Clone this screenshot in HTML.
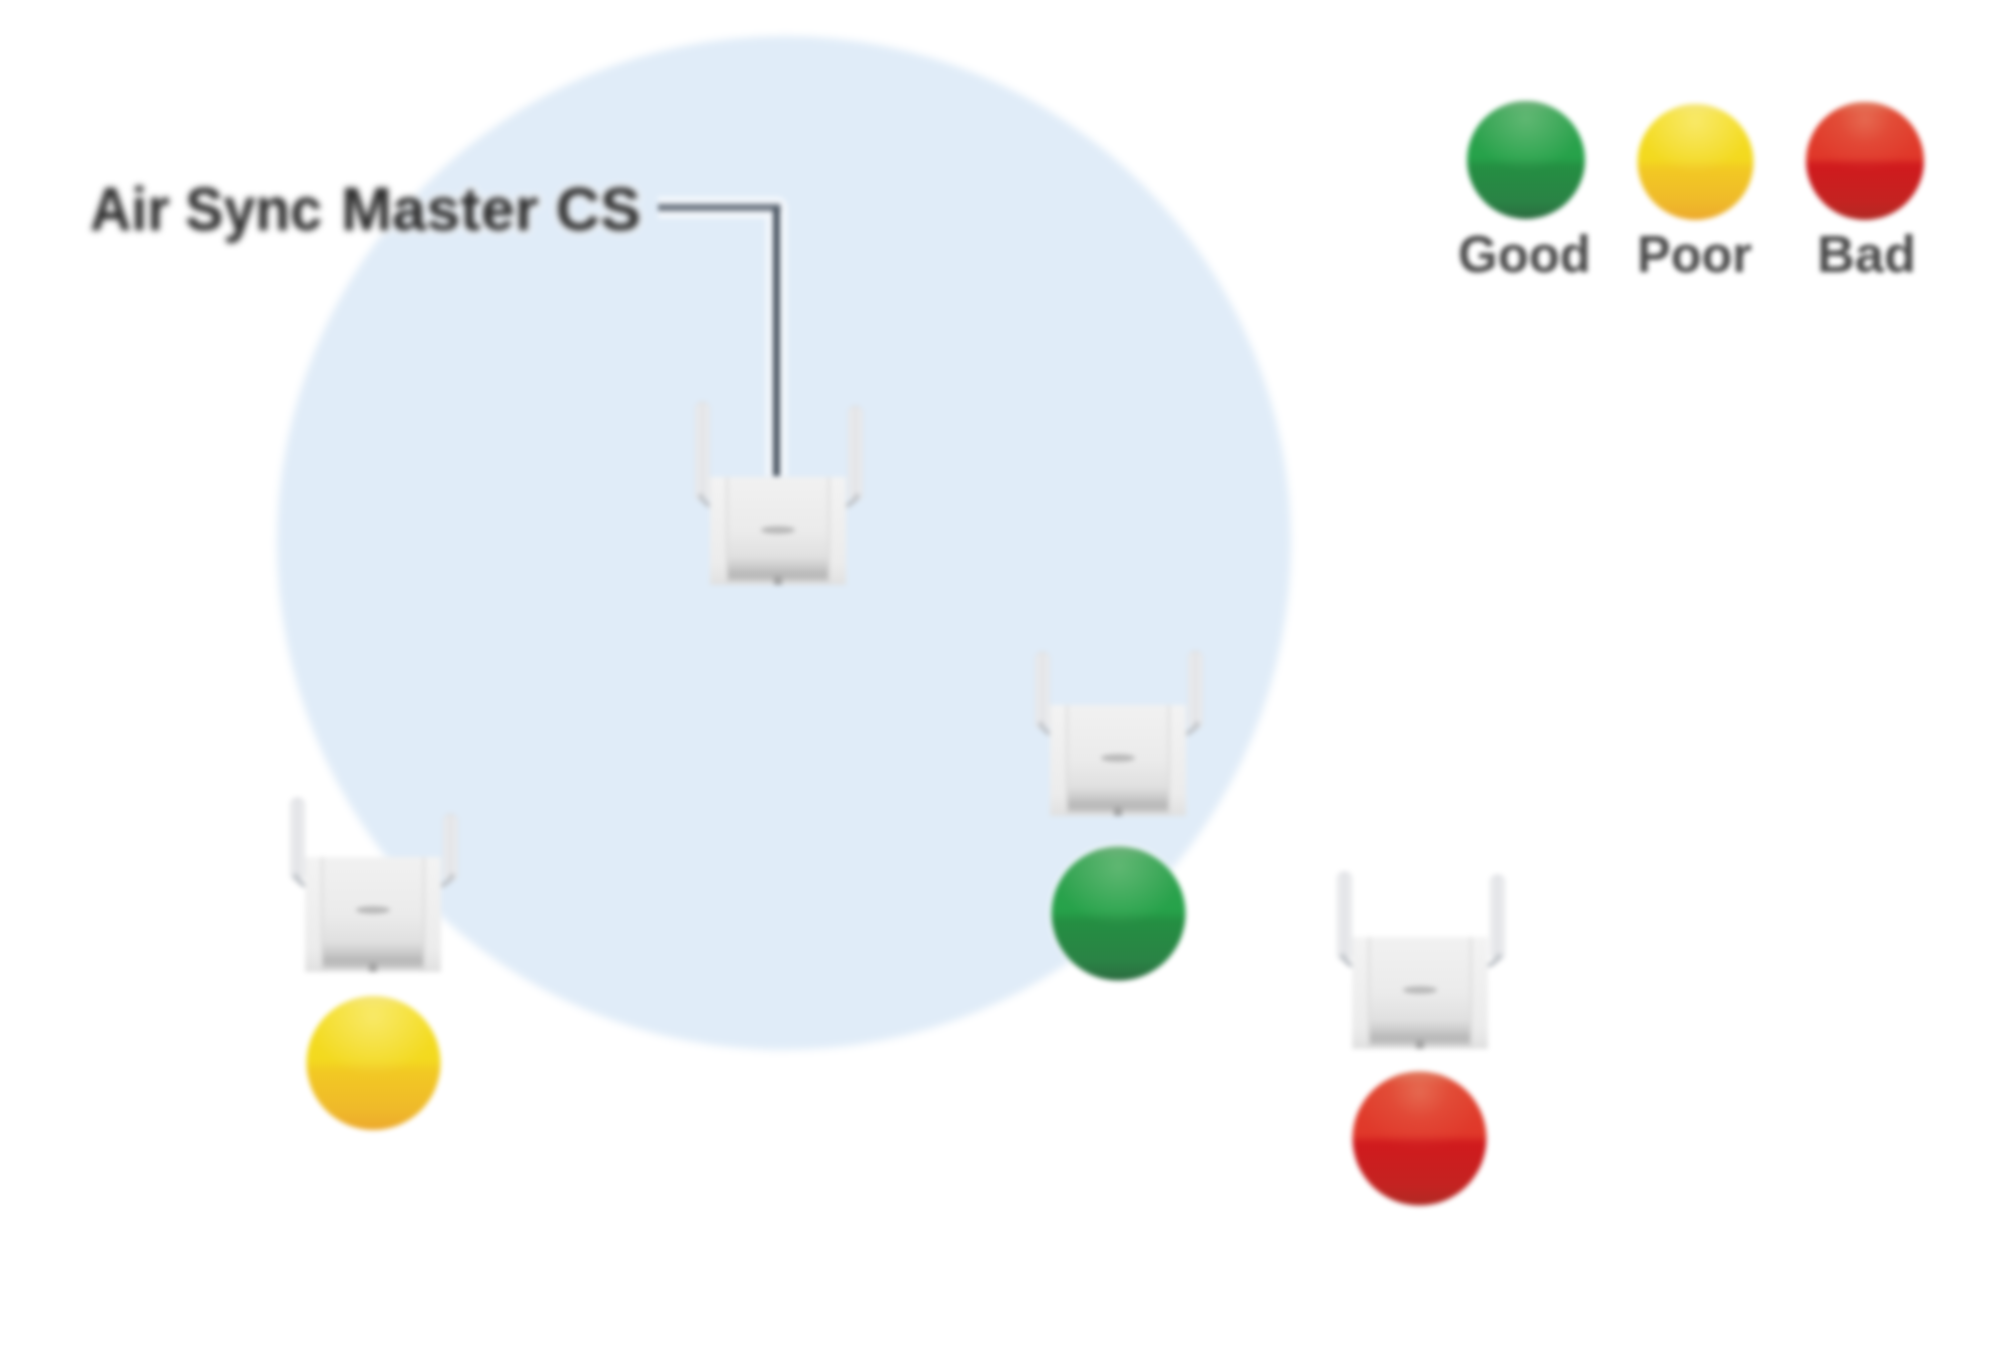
<!DOCTYPE html>
<html>
<head>
<meta charset="utf-8">
<style>
html,body{margin:0;padding:0;background:#ffffff;width:2000px;height:1367px;overflow:hidden;}
svg{display:block;}
text{font-family:"Liberation Sans",sans-serif;}
</style>
</head>
<body>
<svg width="2000" height="1367" viewBox="0 0 2000 1367">
<defs>
  <filter id="bl" x="-5%" y="-5%" width="110%" height="110%" color-interpolation-filters="sRGB"><feGaussianBlur stdDeviation="2.6"/></filter>
  <filter id="tb" x="-5%" y="-20%" width="110%" height="140%" color-interpolation-filters="sRGB"><feGaussianBlur stdDeviation="2"/></filter>
  <filter id="cb" x="-5%" y="-5%" width="110%" height="110%" color-interpolation-filters="sRGB"><feGaussianBlur stdDeviation="3.2"/></filter>

  <linearGradient id="gG" x1="0" y1="0" x2="0" y2="1">
    <stop offset="0" stop-color="#4f9e62"/>
    <stop offset="0.1" stop-color="#2fa04e"/>
    <stop offset="0.48" stop-color="#26a24a"/>
    <stop offset="0.56" stop-color="#248e42"/>
    <stop offset="0.85" stop-color="#2a8345"/>
    <stop offset="0.96" stop-color="#2b7242"/>
    <stop offset="1" stop-color="#2a663c"/>
  </linearGradient>
  <linearGradient id="gY" x1="0" y1="0" x2="0" y2="1">
    <stop offset="0" stop-color="#f0dc50"/>
    <stop offset="0.1" stop-color="#f4dd22"/>
    <stop offset="0.48" stop-color="#f3d91f"/>
    <stop offset="0.56" stop-color="#f2c923"/>
    <stop offset="0.85" stop-color="#efb92a"/>
    <stop offset="1" stop-color="#eda92c"/>
  </linearGradient>
  <linearGradient id="gR" x1="0" y1="0" x2="0" y2="1">
    <stop offset="0" stop-color="#dc6a50"/>
    <stop offset="0.1" stop-color="#e0402c"/>
    <stop offset="0.47" stop-color="#e0382a"/>
    <stop offset="0.54" stop-color="#d01a1d"/>
    <stop offset="0.85" stop-color="#c42321"/>
    <stop offset="1" stop-color="#b02a24"/>
  </linearGradient>
  <radialGradient id="hlgG" cx="0.5" cy="0.1" r="0.5" fx="0.5" fy="0.15">
    <stop offset="0" stop-color="#c8e8c0" stop-opacity="0.32"/>
    <stop offset="0.5" stop-color="#c8e8c0" stop-opacity="0.16"/>
    <stop offset="1" stop-color="#c8e8c0" stop-opacity="0"/>
  </radialGradient>
  <radialGradient id="hlgY" cx="0.5" cy="0.1" r="0.5" fx="0.5" fy="0.15">
    <stop offset="0" stop-color="#fffbd0" stop-opacity="0.4"/>
    <stop offset="0.5" stop-color="#fffbd0" stop-opacity="0.2"/>
    <stop offset="1" stop-color="#fffbd0" stop-opacity="0"/>
  </radialGradient>
  <radialGradient id="hlgR" cx="0.5" cy="0.1" r="0.5" fx="0.5" fy="0.15">
    <stop offset="0" stop-color="#eea282" stop-opacity="0.42"/>
    <stop offset="0.45" stop-color="#eea282" stop-opacity="0.13"/>
    <stop offset="1" stop-color="#eea282" stop-opacity="0"/>
  </radialGradient>
  <linearGradient id="panel" x1="0" y1="0" x2="0" y2="1">
    <stop offset="0" stop-color="#f1f1f1"/>
    <stop offset="0.5" stop-color="#ebebeb"/>
    <stop offset="0.74" stop-color="#e0e0e0"/>
    <stop offset="0.84" stop-color="#c9c9c9"/>
    <stop offset="0.89" stop-color="#b9b9b9"/>
    <stop offset="0.94" stop-color="#bcbcbc"/>
    <stop offset="0.97" stop-color="#dadada"/>
    <stop offset="1" stop-color="#e2e2e2"/>
  </linearGradient>
  <linearGradient id="ant" x1="0" y1="0" x2="1" y2="0">
    <stop offset="0" stop-color="#f0f1f3"/>
    <stop offset="0.5" stop-color="#e1e2e5"/>
    <stop offset="1" stop-color="#f0f1f3"/>
  </linearGradient>
  <linearGradient id="side" x1="0" y1="0" x2="0" y2="1">
    <stop offset="0" stop-color="#f3f3f3"/>
    <stop offset="0.8" stop-color="#ececec"/>
    <stop offset="1" stop-color="#e0e0e0"/>
  </linearGradient>

</defs>
<g filter="url(#bl)">
<rect x="0" y="0" width="2000" height="1367" fill="#ffffff"/>
<circle cx="784" cy="543" r="507" fill="#e0ecf8" filter="url(#cb)"/>
<g filter="url(#tb)">
<text x="90" y="230" font-size="62" font-weight="bold" fill="none" stroke="#ffffff" stroke-opacity="0.6" stroke-width="9" stroke-linejoin="round" textLength="232" lengthAdjust="spacingAndGlyphs">Air Sync</text>
<text x="341" y="230" font-size="62" font-weight="bold" fill="none" stroke="#ffffff" stroke-opacity="0.6" stroke-width="9" stroke-linejoin="round" textLength="300" lengthAdjust="spacingAndGlyphs">Master CS</text>
<text x="90" y="230" font-size="62" font-weight="bold" fill="#2c2c2c" stroke="#2c2c2c" stroke-width="0.3" textLength="232" lengthAdjust="spacingAndGlyphs">Air Sync</text>
<text x="341" y="230" font-size="62" font-weight="bold" fill="#2c2c2c" stroke="#2c2c2c" stroke-width="0.3" textLength="300" lengthAdjust="spacingAndGlyphs">Master CS</text>
</g>
<path d="M658 207.5 H776.5 V476" stroke="#ffffff" stroke-opacity="0.6" stroke-width="22" fill="none" stroke-linejoin="round"/>
<path d="M658 207.5 H780.5" stroke="#757e89" stroke-width="7.5" fill="none"/>
<path d="M776.5 207.5 V476" stroke="#4e5965" stroke-width="7" fill="none"/>
<g transform="translate(710,477)">
<rect x="-14.5" y="-75" width="14" height="99" rx="6" fill="url(#ant)" stroke="#d9dbdf" stroke-width="1"/>
<rect x="138.5" y="-71" width="14" height="95" rx="6" fill="url(#ant)" stroke="#d9dbdf" stroke-width="1"/>
<path d="M-10 17 Q-7 26 1 29" stroke="#c2c6cb" stroke-width="5" fill="none"/>
<path d="M148 17 Q145 26 135 29" stroke="#c2c6cb" stroke-width="5" fill="none"/>
<rect x="0" y="0" width="136" height="108" fill="url(#side)"/>
<rect x="17" y="0" width="102" height="108" fill="url(#panel)"/>
<rect x="16" y="0" width="2" height="108" fill="#dadada"/>
<rect x="118" y="0" width="2" height="108" fill="#dadada"/>
<ellipse cx="68.0" cy="53" rx="17" ry="3.8" fill="#b8b8b8"/>
<rect x="64.0" y="99" width="8" height="9" fill="#a4a4a4"/>
</g>
<g transform="translate(1050,705)">
<rect x="-14.5" y="-53" width="14" height="77" rx="6" fill="url(#ant)" stroke="#d9dbdf" stroke-width="1"/>
<rect x="138.5" y="-54" width="14" height="78" rx="6" fill="url(#ant)" stroke="#d9dbdf" stroke-width="1"/>
<path d="M-10 17 Q-7 26 1 29" stroke="#c2c6cb" stroke-width="5" fill="none"/>
<path d="M148 17 Q145 26 135 29" stroke="#c2c6cb" stroke-width="5" fill="none"/>
<rect x="0" y="0" width="136" height="111" fill="url(#side)"/>
<rect x="17" y="0" width="102" height="111" fill="url(#panel)"/>
<rect x="16" y="0" width="2" height="111" fill="#dadada"/>
<rect x="118" y="0" width="2" height="111" fill="#dadada"/>
<ellipse cx="68.0" cy="53" rx="17" ry="3.8" fill="#b8b8b8"/>
<rect x="64.0" y="102" width="8" height="9" fill="#a4a4a4"/>
</g>
<g transform="translate(305,857)">
<rect x="-14.5" y="-59" width="14" height="83" rx="6" fill="url(#ant)" stroke="#d9dbdf" stroke-width="1"/>
<rect x="138.5" y="-43" width="14" height="67" rx="6" fill="url(#ant)" stroke="#d9dbdf" stroke-width="1"/>
<path d="M-10 17 Q-7 26 1 29" stroke="#c2c6cb" stroke-width="5" fill="none"/>
<path d="M148 17 Q145 26 135 29" stroke="#c2c6cb" stroke-width="5" fill="none"/>
<rect x="0" y="0" width="136" height="115" fill="url(#side)"/>
<rect x="17" y="0" width="102" height="115" fill="url(#panel)"/>
<rect x="16" y="0" width="2" height="115" fill="#dadada"/>
<rect x="118" y="0" width="2" height="115" fill="#dadada"/>
<ellipse cx="68.0" cy="53" rx="17" ry="3.8" fill="#b8b8b8"/>
<rect x="64.0" y="106" width="8" height="9" fill="#a4a4a4"/>
</g>
<g transform="translate(1352,937)">
<rect x="-14.5" y="-65" width="14" height="89" rx="6" fill="url(#ant)" stroke="#d9dbdf" stroke-width="1"/>
<rect x="138.5" y="-62" width="14" height="86" rx="6" fill="url(#ant)" stroke="#d9dbdf" stroke-width="1"/>
<path d="M-10 17 Q-7 26 1 29" stroke="#c2c6cb" stroke-width="5" fill="none"/>
<path d="M148 17 Q145 26 135 29" stroke="#c2c6cb" stroke-width="5" fill="none"/>
<rect x="0" y="0" width="136" height="112" fill="url(#side)"/>
<rect x="17" y="0" width="102" height="112" fill="url(#panel)"/>
<rect x="16" y="0" width="2" height="112" fill="#dadada"/>
<rect x="118" y="0" width="2" height="112" fill="#dadada"/>
<ellipse cx="68.0" cy="53" rx="17" ry="3.8" fill="#b8b8b8"/>
<rect x="64.0" y="103" width="8" height="9" fill="#a4a4a4"/>
</g>
<circle cx="1118.5" cy="913.5" r="70" fill="#ffffff" opacity="0.55"/><circle cx="1118.5" cy="913.5" r="67" fill="url(#gG)"/><circle cx="1118.5" cy="913.5" r="67" fill="url(#hlgG)"/>
<circle cx="373.5" cy="1063" r="70" fill="#ffffff" opacity="0.55"/><circle cx="373.5" cy="1063" r="67" fill="url(#gY)"/><circle cx="373.5" cy="1063" r="67" fill="url(#hlgY)"/>
<circle cx="1419.5" cy="1138.5" r="70" fill="#ffffff" opacity="0.55"/><circle cx="1419.5" cy="1138.5" r="67" fill="url(#gR)"/><circle cx="1419.5" cy="1138.5" r="67" fill="url(#hlgR)"/>
<circle cx="1526" cy="160" r="62" fill="#ffffff" opacity="0.55"/><circle cx="1526" cy="160" r="59" fill="url(#gG)"/><circle cx="1526" cy="160" r="59" fill="url(#hlgG)"/>
<circle cx="1695.5" cy="162" r="61" fill="#ffffff" opacity="0.55"/><circle cx="1695.5" cy="162" r="58" fill="url(#gY)"/><circle cx="1695.5" cy="162" r="58" fill="url(#hlgY)"/>
<circle cx="1865" cy="161" r="62" fill="#ffffff" opacity="0.55"/><circle cx="1865" cy="161" r="59" fill="url(#gR)"/><circle cx="1865" cy="161" r="59" fill="url(#hlgR)"/>
<g>
<text x="1458" y="272" font-size="52" font-weight="bold" fill="#4a4a4a" textLength="133" lengthAdjust="spacingAndGlyphs">Good</text>
<text x="1637" y="272" font-size="52" font-weight="bold" fill="#4a4a4a" textLength="115" lengthAdjust="spacingAndGlyphs">Poor</text>
<text x="1817" y="272" font-size="52" font-weight="bold" fill="#4a4a4a" textLength="99" lengthAdjust="spacingAndGlyphs">Bad</text>
</g>
</g>
</svg>
</body>
</html>
